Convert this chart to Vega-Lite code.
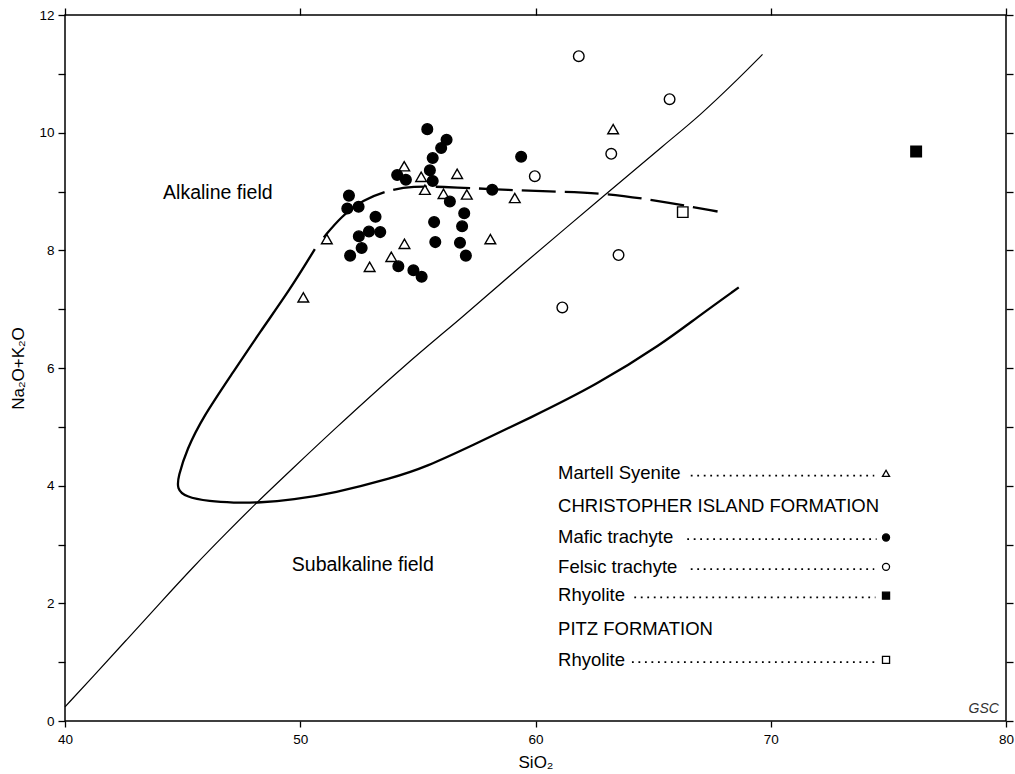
{
  "$schema": "https://vega.github.io/schema/vega-lite/v6.json",
  "width": 941,
  "height": 706,
  "autosize": {"type": "none"},
  "padding": {"left": 65, "top": 15, "right": 9, "bottom": 53},
  "background": "white",
  "config": {
    "view": {"stroke": "black", "strokeWidth": 1.5},
    "font": "Liberation Sans",
    "axis": {
      "grid": false,
      "domain": false,
      "tickColor": "black",
      "tickWidth": 1.3,
      "labelColor": "black",
      "titleColor": "black",
      "labelFont": "Liberation Sans",
      "titleFont": "Liberation Sans",
      "labelFontSize": 13.5,
      "titleFontWeight": "normal",
      "labelOverlap": false,
      "labelFlush": false,
      "labelBound": false
    }
  },
  "resolve": {"axis": {"x": "independent", "y": "independent"}},
  "datasets": {
    "samples": [
      {"group": "Martell Syenite", "sio2": 50.13, "alk": 7.20},
      {"group": "Martell Syenite", "sio2": 51.13, "alk": 8.19},
      {"group": "Martell Syenite", "sio2": 52.95, "alk": 7.72},
      {"group": "Martell Syenite", "sio2": 53.87, "alk": 7.89},
      {"group": "Martell Syenite", "sio2": 54.43, "alk": 8.11},
      {"group": "Martell Syenite", "sio2": 54.42, "alk": 9.43},
      {"group": "Martell Syenite", "sio2": 55.14, "alk": 9.25},
      {"group": "Martell Syenite", "sio2": 55.30, "alk": 9.03},
      {"group": "Martell Syenite", "sio2": 56.09, "alk": 8.96},
      {"group": "Martell Syenite", "sio2": 56.67, "alk": 9.30},
      {"group": "Martell Syenite", "sio2": 57.08, "alk": 8.95},
      {"group": "Martell Syenite", "sio2": 58.08, "alk": 8.19},
      {"group": "Martell Syenite", "sio2": 59.12, "alk": 8.89},
      {"group": "Martell Syenite", "sio2": 63.30, "alk": 10.06},
      {"group": "Mafic trachyte", "sio2": 55.40, "alk": 10.06},
      {"group": "Mafic trachyte", "sio2": 56.22, "alk": 9.88},
      {"group": "Mafic trachyte", "sio2": 55.99, "alk": 9.74},
      {"group": "Mafic trachyte", "sio2": 55.63, "alk": 9.57},
      {"group": "Mafic trachyte", "sio2": 55.51, "alk": 9.36},
      {"group": "Mafic trachyte", "sio2": 55.63, "alk": 9.18},
      {"group": "Mafic trachyte", "sio2": 54.12, "alk": 9.28},
      {"group": "Mafic trachyte", "sio2": 54.49, "alk": 9.20},
      {"group": "Mafic trachyte", "sio2": 59.39, "alk": 9.59},
      {"group": "Mafic trachyte", "sio2": 58.16, "alk": 9.03},
      {"group": "Mafic trachyte", "sio2": 56.36, "alk": 8.83},
      {"group": "Mafic trachyte", "sio2": 52.07, "alk": 8.93},
      {"group": "Mafic trachyte", "sio2": 52.00, "alk": 8.71},
      {"group": "Mafic trachyte", "sio2": 52.48, "alk": 8.74},
      {"group": "Mafic trachyte", "sio2": 53.20, "alk": 8.57},
      {"group": "Mafic trachyte", "sio2": 52.92, "alk": 8.32},
      {"group": "Mafic trachyte", "sio2": 53.40, "alk": 8.31},
      {"group": "Mafic trachyte", "sio2": 52.49, "alk": 8.24},
      {"group": "Mafic trachyte", "sio2": 52.61, "alk": 8.04},
      {"group": "Mafic trachyte", "sio2": 52.12, "alk": 7.91},
      {"group": "Mafic trachyte", "sio2": 54.17, "alk": 7.73},
      {"group": "Mafic trachyte", "sio2": 54.81, "alk": 7.66},
      {"group": "Mafic trachyte", "sio2": 55.16, "alk": 7.55},
      {"group": "Mafic trachyte", "sio2": 56.97, "alk": 8.63},
      {"group": "Mafic trachyte", "sio2": 55.69, "alk": 8.48},
      {"group": "Mafic trachyte", "sio2": 56.88, "alk": 8.41},
      {"group": "Mafic trachyte", "sio2": 55.74, "alk": 8.14},
      {"group": "Mafic trachyte", "sio2": 56.79, "alk": 8.13},
      {"group": "Mafic trachyte", "sio2": 57.04, "alk": 7.91},
      {"group": "Felsic trachyte", "sio2": 61.84, "alk": 11.30},
      {"group": "Felsic trachyte", "sio2": 65.70, "alk": 10.57},
      {"group": "Felsic trachyte", "sio2": 63.22, "alk": 9.64},
      {"group": "Felsic trachyte", "sio2": 59.97, "alk": 9.26},
      {"group": "Felsic trachyte", "sio2": 63.53, "alk": 7.92},
      {"group": "Felsic trachyte", "sio2": 61.14, "alk": 7.03},
      {"group": "Rhyolite (Christopher Island)", "sio2": 76.18, "alk": 9.68},
      {"group": "Rhyolite (Pitz)", "sio2": 66.26, "alk": 8.65}
    ],
    "curves": [
      {"c": "divide", "s": 1, "x": 40.0, "y": 0.24},
      {"c": "divide", "s": 2, "x": 41.2, "y": 0.76},
      {"c": "divide", "s": 3, "x": 42.62, "y": 1.38},
      {"c": "divide", "s": 4, "x": 44.03, "y": 2.0},
      {"c": "divide", "s": 5, "x": 45.45, "y": 2.62},
      {"c": "divide", "s": 6, "x": 46.87, "y": 3.2},
      {"c": "divide", "s": 7, "x": 48.14, "y": 3.71},
      {"c": "divide", "s": 8, "x": 49.70, "y": 4.3},
      {"c": "divide", "s": 9, "x": 51.26, "y": 4.89},
      {"c": "divide", "s": 10, "x": 54.52, "y": 6.08},
      {"c": "divide", "s": 11, "x": 56.92, "y": 6.87},
      {"c": "divide", "s": 12, "x": 59.18, "y": 7.67},
      {"c": "divide", "s": 13, "x": 63.07, "y": 8.98},
      {"c": "divide", "s": 14, "x": 65.55, "y": 9.82},
      {"c": "divide", "s": 15, "x": 66.96, "y": 10.28},
      {"c": "divide", "s": 16, "x": 68.66, "y": 10.93},
      {"c": "divide", "s": 17, "x": 69.65, "y": 11.33},
      {"c": "loop", "s": 1, "x": 50.62, "y": 8.02},
      {"c": "loop", "s": 2, "x": 49.56, "y": 7.33},
      {"c": "loop", "s": 3, "x": 48.3, "y": 6.62},
      {"c": "loop", "s": 4, "x": 47.1, "y": 5.9},
      {"c": "loop", "s": 5, "x": 45.87, "y": 5.17},
      {"c": "loop", "s": 6, "x": 45.17, "y": 4.61},
      {"c": "loop", "s": 7, "x": 44.81, "y": 4.15},
      {"c": "loop", "s": 8, "x": 44.76, "y": 3.95},
      {"c": "loop", "s": 9, "x": 45.1, "y": 3.81},
      {"c": "loop", "s": 10, "x": 46.16, "y": 3.73},
      {"c": "loop", "s": 11, "x": 47.15, "y": 3.71},
      {"c": "loop", "s": 12, "x": 48.28, "y": 3.71},
      {"c": "loop", "s": 13, "x": 49.70, "y": 3.76},
      {"c": "loop", "s": 14, "x": 51.40, "y": 3.87},
      {"c": "loop", "s": 15, "x": 53.94, "y": 4.13},
      {"c": "loop", "s": 16, "x": 55.36, "y": 4.32},
      {"c": "loop", "s": 17, "x": 57.3, "y": 4.68},
      {"c": "loop", "s": 18, "x": 59.76, "y": 5.15},
      {"c": "loop", "s": 19, "x": 62.59, "y": 5.71},
      {"c": "loop", "s": 20, "x": 65.42, "y": 6.42},
      {"c": "loop", "s": 21, "x": 66.83, "y": 6.85},
      {"c": "loop", "s": 22, "x": 68.64, "y": 7.37},
      {"c": "dash", "s": 1, "x": 51.0, "y": 8.22},
      {"c": "dash", "s": 2, "x": 51.75, "y": 8.58},
      {"c": "dash", "s": 3, "x": 52.67, "y": 8.86},
      {"c": "dash", "s": 4, "x": 53.8, "y": 9.03},
      {"c": "dash", "s": 5, "x": 54.79, "y": 9.09},
      {"c": "dash", "s": 6, "x": 56.07, "y": 9.08},
      {"c": "dash", "s": 7, "x": 57.62, "y": 9.05},
      {"c": "dash", "s": 8, "x": 58.75, "y": 9.03},
      {"c": "dash", "s": 9, "x": 60.45, "y": 9.0},
      {"c": "dash", "s": 10, "x": 63.0, "y": 8.98},
      {"c": "dash", "s": 11, "x": 65.83, "y": 8.8},
      {"c": "dash", "s": 12, "x": 67.74, "y": 8.66}
    ],
    "fields": [
      {"t": "Alkaline field", "x": 44.17, "y": 8.98},
      {"t": "Subalkaline field", "x": 49.64, "y": 2.66}
    ],
    "labels": [
      {"t": "Martell Syenite", "x": 60.96, "y": 4.21},
      {"t": "CHRISTOPHER ISLAND FORMATION", "x": 60.96, "y": 3.66},
      {"t": "Mafic trachyte", "x": 60.96, "y": 3.13},
      {"t": "Felsic trachyte", "x": 60.96, "y": 2.62},
      {"t": "Rhyolite", "x": 60.96, "y": 2.14},
      {"t": "PITZ FORMATION", "x": 60.96, "y": 1.56},
      {"t": "Rhyolite", "x": 60.96, "y": 1.04}
    ],
    "leaders": [
      {"x1": 66.6, "x2": 74.4, "y": 4.17},
      {"x1": 66.45, "x2": 74.5, "y": 3.09},
      {"x1": 66.6, "x2": 74.4, "y": 2.58},
      {"x1": 64.2, "x2": 74.45, "y": 2.10},
      {"x1": 64.1, "x2": 74.4, "y": 1.00}
    ],
    "keys": [
      {"group": "Martell Syenite", "x": 74.9, "y": 4.21},
      {"group": "Mafic trachyte", "x": 74.9, "y": 3.12},
      {"group": "Felsic trachyte", "x": 74.9, "y": 2.62},
      {"group": "Rhyolite (Christopher Island)", "x": 74.9, "y": 2.13},
      {"group": "Rhyolite (Pitz)", "x": 74.9, "y": 1.04}
    ]
  },
  "layer": [
    {
      "data": {"name": "curves"},
      "transform": [{"filter": "datum.c == 'divide'"}],
      "mark": {"type": "line", "color": "black", "strokeWidth": 1.2, "interpolate": "basis"},
      "encoding": {
        "x": {"field": "x", "type": "quantitative", "scale": {"domain": [40, 80], "nice": false, "zero": false},
          "axis": {"orient": "bottom", "values": [40, 50, 60, 70, 80], "tickSize": 6, "labelPadding": 5, "title": "SiO₂", "titleFontSize": 17, "titlePadding": 9}},
        "y": {"field": "y", "type": "quantitative", "scale": {"domain": [0, 12], "nice": false, "zero": false},
          "axis": {"orient": "left", "values": [0,1,2,3,4,5,6,7,8,9,10,11,12], "labelExpr": "datum.value % 2 == 0 ? datum.label : ''", "tickSize": 7, "labelPadding": 4, "title": "Na₂O+K₂O", "titleFontSize": 17, "titlePadding": 11}},
        "order": {"field": "s", "type": "quantitative"}
      }
    },
    {
      "data": {"name": "curves"},
      "transform": [{"filter": "datum.c == 'loop'"}],
      "mark": {"type": "line", "color": "black", "strokeWidth": 2.3, "interpolate": "basis"},
      "encoding": {
        "x": {"field": "x", "type": "quantitative",
          "axis": {"orient": "top", "values": [40, 50, 60, 70, 80], "labels": false, "tickSize": 7, "title": null}},
        "y": {"field": "y", "type": "quantitative",
          "axis": {"orient": "right", "values": [0,1,2,3,4,5,6,7,8,9,10,11,12], "labels": false, "tickSize": 7, "title": null}},
        "order": {"field": "s", "type": "quantitative"}
      }
    },
    {
      "data": {"name": "curves"},
      "transform": [{"filter": "datum.c == 'dash'"}],
      "mark": {"type": "line", "color": "black", "strokeWidth": 2.3, "interpolate": "basis", "strokeDash": [34, 9]},
      "encoding": {
        "x": {"field": "x", "type": "quantitative", "axis": null},
        "y": {"field": "y", "type": "quantitative", "axis": null},
        "order": {"field": "s", "type": "quantitative"}
      }
    },
    {
      "data": {"name": "samples"},
      "mark": {"type": "point", "filled": true, "stroke": "black", "strokeWidth": 1.4, "opacity": 1},
      "encoding": {
        "x": {"field": "sio2", "type": "quantitative", "axis": null},
        "y": {"field": "alk", "type": "quantitative", "axis": null},
        "shape": {"field": "group", "type": "nominal", "legend": null,
          "scale": {"domain": ["Martell Syenite", "Mafic trachyte", "Felsic trachyte", "Rhyolite (Christopher Island)", "Rhyolite (Pitz)"],
                    "range": ["triangle-up", "circle", "circle", "square", "square"]}},
        "fill": {"field": "group", "type": "nominal", "legend": null,
          "scale": {"domain": ["Martell Syenite", "Mafic trachyte", "Felsic trachyte", "Rhyolite (Christopher Island)", "Rhyolite (Pitz)"],
                    "range": ["white", "black", "white", "black", "white"]}},
        "size": {"field": "group", "type": "nominal", "legend": null,
          "scale": {"domain": ["Martell Syenite", "Mafic trachyte", "Felsic trachyte", "Rhyolite (Christopher Island)", "Rhyolite (Pitz)"],
                    "range": [115, 110, 85, 95, 105]}}
      }
    },
    {
      "data": {"name": "fields"},
      "mark": {"type": "text", "align": "left", "baseline": "middle", "fontSize": 19.5, "font": "Liberation Sans", "color": "black"},
      "encoding": {
        "x": {"field": "x", "type": "quantitative", "axis": null},
        "y": {"field": "y", "type": "quantitative", "axis": null},
        "text": {"field": "t"}
      }
    },
    {
      "data": {"name": "labels"},
      "mark": {"type": "text", "align": "left", "baseline": "middle", "fontSize": 18.5, "font": "Liberation Sans", "color": "black"},
      "encoding": {
        "x": {"field": "x", "type": "quantitative", "axis": null},
        "y": {"field": "y", "type": "quantitative", "axis": null},
        "text": {"field": "t"}
      }
    },
    {
      "data": {"name": "leaders"},
      "mark": {"type": "rule", "color": "black", "strokeWidth": 1.8, "strokeDash": [1.8, 4.7]},
      "encoding": {
        "x": {"field": "x1", "type": "quantitative", "axis": null},
        "x2": {"field": "x2"},
        "y": {"field": "y", "type": "quantitative", "axis": null}
      }
    },
    {
      "data": {"name": "keys"},
      "mark": {"type": "point", "filled": true, "stroke": "black", "strokeWidth": 1.3, "opacity": 1},
      "encoding": {
        "x": {"field": "x", "type": "quantitative", "axis": null},
        "y": {"field": "y", "type": "quantitative", "axis": null},
        "shape": {"field": "group", "type": "nominal", "legend": null,
          "scale": {"domain": ["Martell Syenite", "Mafic trachyte", "Felsic trachyte", "Rhyolite (Christopher Island)", "Rhyolite (Pitz)"],
                    "range": ["triangle-up", "circle", "circle", "square", "square"]}},
        "fill": {"field": "group", "type": "nominal", "legend": null,
          "scale": {"domain": ["Martell Syenite", "Mafic trachyte", "Felsic trachyte", "Rhyolite (Christopher Island)", "Rhyolite (Pitz)"],
                    "range": ["white", "black", "white", "black", "white"]}},
        "size": {"value": 50}
      }
    },
    {
      "data": {"values": [{"t": "GSC", "x": 79.7, "y": 0.2}]},
      "mark": {"type": "text", "align": "right", "baseline": "middle", "fontSize": 14, "fontStyle": "italic", "font": "Liberation Sans", "color": "#333"},
      "encoding": {
        "x": {"field": "x", "type": "quantitative", "axis": null},
        "y": {"field": "y", "type": "quantitative", "axis": null},
        "text": {"field": "t"}
      }
    }
  ]
}
